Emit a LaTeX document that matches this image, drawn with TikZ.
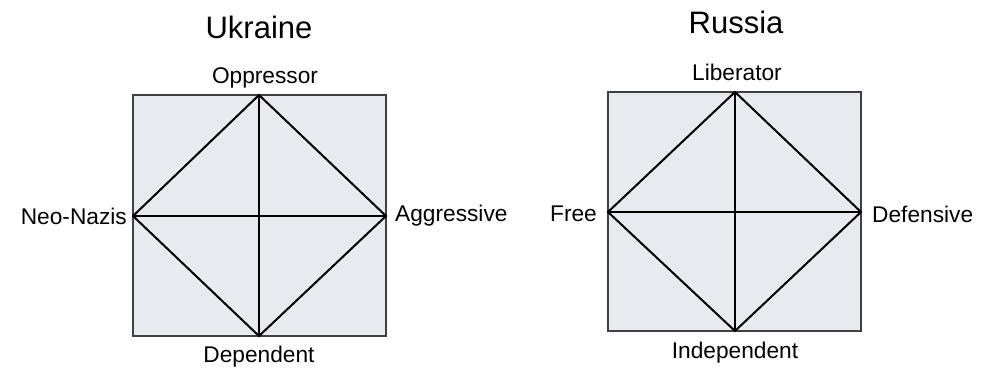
\documentclass[tikz,border=0pt]{standalone}
\usepackage{fontspec}
\setmainfont{Liberation Sans}
\definecolor{boxfill}{HTML}{E7EAEF}
\definecolor{boxline}{HTML}{404040}
\begin{document}
\begin{tikzpicture}[x=1pt,y=-1pt,
  sq/.style={fill=boxfill,draw=boxline,line width=2pt},
  ln/.style={draw=black,line width=2pt},
  title/.style={font=\fontsize{31}{36}\selectfont,inner sep=0pt},
  lbl/.style={font=\fontsize{22.7}{27}\selectfont,inner sep=0pt}]
\useasboundingbox (0,0) rectangle (987,367);
% Left square
\coordinate (LTL) at (133,95);
\coordinate (LBR) at (386,336);
\coordinate (LT) at (259,95);
\coordinate (LB) at (259,336);
\coordinate (LL) at (133,216);
\coordinate (LR) at (386,216);
\draw[sq] (LTL) rectangle (LBR);
\draw[ln] (LT) -- (LR) -- (LB) -- (LL) -- cycle;
\draw[ln] (LT) -- (LB);
\draw[ln] (LL) -- (LR);
% Right square
\coordinate (RTL) at (608,92);
\coordinate (RBR) at (861,331);
\coordinate (RT) at (735,92);
\coordinate (RB) at (735,331);
\coordinate (RL) at (608,212);
\coordinate (RR) at (861,212);
\draw[sq] (RTL) rectangle (RBR);
\draw[ln] (RT) -- (RR) -- (RB) -- (RL) -- cycle;
\draw[ln] (RT) -- (RB);
\draw[ln] (RL) -- (RR);
% Titles
\node[title,anchor=base] (ukr) at (259,38.3) {Ukraine};
\node[title,anchor=base] (rus) at (736,33.5) {Russia};
% Left labels
\node[lbl,anchor=base] (opp) at (265,83.3) {Oppressor};
\node[lbl,anchor=east] (neo) at (127,216) {Neo-Nazis};
\node[lbl,anchor=west] (agg) at (395,216) {Aggressive};
\node[lbl,anchor=base] (dep) at (259,362) {Dependent};
% Right labels
\node[lbl,anchor=base] (lib) at (737,80) {Liberator};
\node[lbl,anchor=east] (free) at (597,214) {Free};
\node[lbl,anchor=west] (def) at (872,214) {Defensive};
\node[lbl,anchor=base] (ind) at (735,358) {Independent};
\end{tikzpicture}
\end{document}
